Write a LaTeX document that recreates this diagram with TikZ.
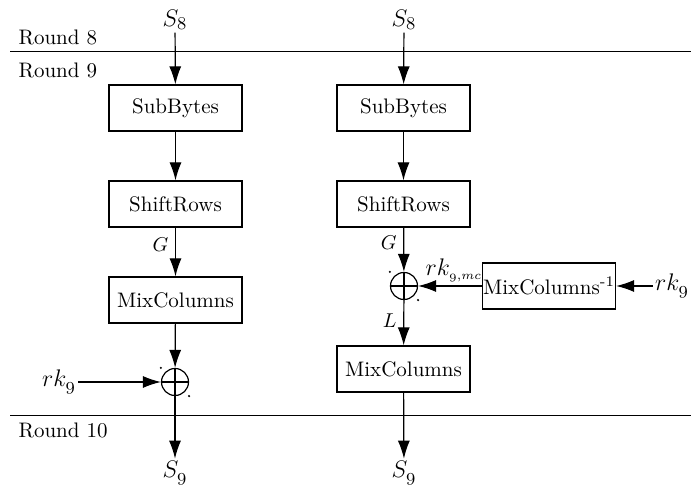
\documentclass[tikz,border=0pt]{standalone}
\usepackage{amsmath}
\usepackage{tikz}
\usetikzlibrary{arrows.meta,positioning,calc}

% old style digits from the math italic font
\newcommand{\odig}[1]{\text{\usefont{OML}{cmm}{m}{it}#1}}

\begin{document}
\begin{tikzpicture}[x=0.5pt,y=-0.5pt,>={Latex[length=9pt,width=6pt]},line width=0.6pt,
  font=\fontsize{10.5}{12}\selectfont,
  box/.style={draw,minimum width=66.5pt,minimum height=23pt,inner sep=0pt},
  var/.style={font=\fontsize{12.5}{15}\selectfont,inner sep=1pt},
  lab/.style={font=\fontsize{10}{12}\selectfont},
  xor/.style={draw,circle,minimum size=13.5pt,inner sep=0pt,
    path picture={\draw (path picture bounding box.north)--(path picture bounding box.south)
      (path picture bounding box.west)--(path picture bounding box.east);}},
  rnd/.style={anchor=west,inner sep=0pt}]
\useasboundingbox (0,0) rectangle (691,490);
% round borders
\draw[line width=0.5pt] (10,52)--(691,52) (10,416)--(691,416);
\node[rnd] (r8) at (18,37) {Round 8};
\node[rnd] (r9) at (18,70) {Round 9};
\node[rnd] (r10) at (18,430) {Round 10};
% left column
\node[var] (s8l) at (175,20) {$S_{\odig{8}}$};
\node[box] (sbl) at (175.5,108) {SubBytes};
\node[box] (srl) at (175.5,204) {ShiftRows};
\node[box] (mcl) at (175.5,300) {MixColumns};
\node[xor] (xl) at (175,382) {};
\node[var] (rkl) at (59,382) {$rk_{\odig{9}}$};
\node[var] (s9l) at (175,473) {$S_{\odig{9}}$};
\draw[->] (s8l)--(sbl);\draw[->] (sbl)--(srl);
\draw[->] (srl)--node[lab,left,pos=0.35]{$G$}(mcl);
\draw[->] (mcl)--(xl);\draw[->] (rkl)--(xl);\draw[->] (xl)--(s9l);
\fill (xl.west |- xl.north) circle (0.6pt) (xl.east |- xl.south) circle (0.6pt);
% right column
\node[var] (s8r) at (404,20) {$S_{\odig{8}}$};
\node[box] (sbr) at (403.5,108) {SubBytes};
\node[box] (srr) at (403.5,204) {ShiftRows};
\node[xor] (xr) at (404,286) {};
\node[box] (mci) at (549,286) {MixColumns\textsuperscript{-1}};
\node[var] (rkr) at (672,286) {$rk_{\odig{9}}$};
\node[box] (mcr) at (403.5,369) {MixColumns};
\node[var] (s9r) at (404,473) {$S_{\odig{9}}$};
\draw[->] (s8r)--(sbr);\draw[->] (sbr)--(srr);
\draw[->] (srr)--node[lab,left,pos=0.35]{$G$}(xr);
\draw[->] (mci)--(xr) node[var,pos=1,anchor=south west,xshift=2.5pt,yshift=1pt]{$rk_{\scriptscriptstyle\odig{9},mc}$};
\draw[->] (rkr)--(mci);
\draw[->] (xr)--node[lab,left,pos=0.45]{$L$}(mcr);
\draw[->] (mcr)--(s9r);
\fill (xr.west |- xr.north) circle (0.6pt) (xr.east |- xr.south) circle (0.6pt);
\end{tikzpicture}
\end{document}
